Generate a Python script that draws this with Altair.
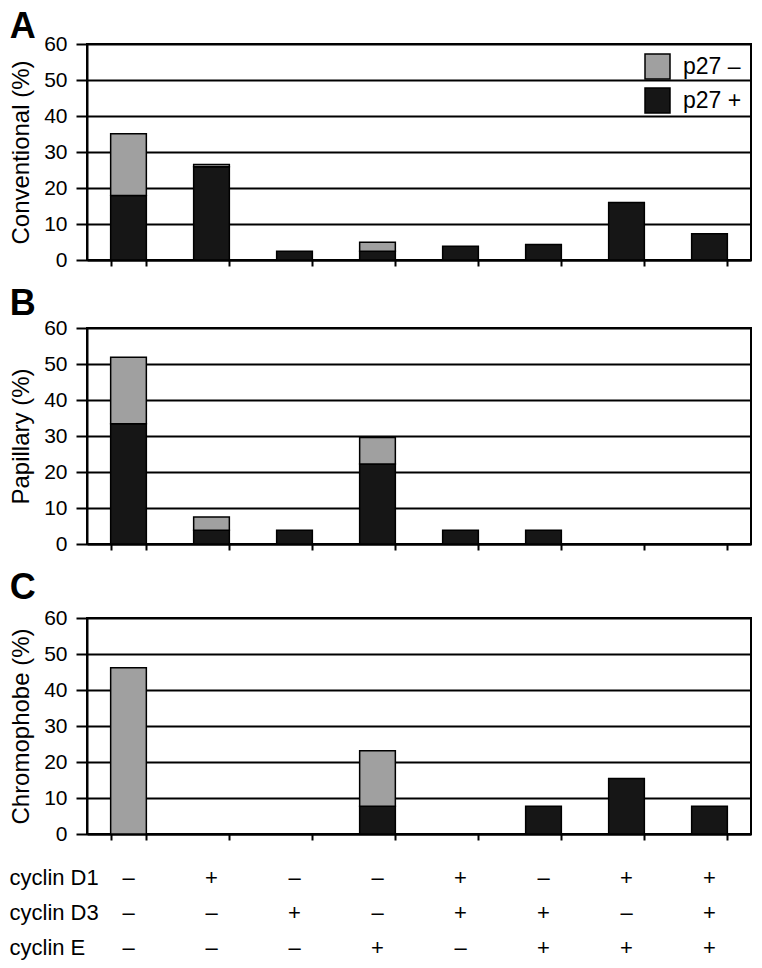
import altair as alt
import pandas as pd

# ---- data ----
categories = ["c1", "c2", "c3", "c4", "c5", "c6", "c7", "c8"]
series = ["p27 –", "p27 +"]

conv_pos = [17.9, 25.9, 2.4, 2.4, 3.8, 4.3, 16.0, 7.3]
conv_neg = [17.2, 0.6, 0.0, 2.5, 0.0, 0.0, 0.0, 0.0]

pap_pos = [33.4, 3.8, 3.8, 22.2, 3.8, 3.8, 0.0, 0.0]
pap_neg = [18.5, 3.7, 0.0, 7.4, 0.0, 0.0, 0.0, 0.0]

chr_pos = [0.0, 0.0, 0.0, 7.7, 0.0, 7.7, 15.4, 7.7]
chr_neg = [46.2, 0.0, 0.0, 15.4, 0.0, 0.0, 0.0, 0.0]

row_labels = ["cyclin D1", "cyclin D3", "cyclin E"]
cyclin_d1 = ["–", "+", "–", "–", "+", "–", "+", "+"]
cyclin_d3 = ["–", "–", "+", "–", "+", "+", "–", "+"]
cyclin_e = ["–", "–", "–", "+", "–", "+", "+", "+"]

y_ticks = [0, 10, 20, 30, 40, 50, 60]

FONT = "Liberation Sans"
W = 664
H = 216
GRAY = "#a0a0a0"
BLACK = "#161616"


def panel_df(pos, neg):
    rows = []
    for c, p, n in zip(categories, pos, neg):
        if p > 0:
            rows.append({"cat": c, "series": series[1], "value": p, "order": 0})
        if n > 0:
            rows.append({"cat": c, "series": series[0], "value": n, "order": 1})
    return pd.DataFrame(rows)


x_scale = alt.Scale(domain=categories, paddingInner=0.57, paddingOuter=0.285)
color_scale = alt.Scale(domain=series, range=[GRAY, BLACK])


def panel(df, ytitle, letter, offset, legend):
    return alt.Chart(df).mark_bar(stroke="black", strokeWidth=1.5).encode(
        x=alt.X("cat:N", scale=x_scale, sort=categories,
                axis=alt.Axis(title=None, labels=False, tickBand="extent",
                              ticks=True, tickSize=6, tickWidth=2,
                              tickColor="black", domainColor="black",
                              domainWidth=2, grid=False)),
        y=alt.Y("value:Q", stack="zero",
                scale=alt.Scale(domain=[0, 60], nice=False),
                axis=alt.Axis(values=y_ticks, title=ytitle, titleFontSize=24,
                              titleFontWeight="normal", titlePadding=10,
                              labelFontSize=21, labelPadding=9,
                              tickSize=11, tickWidth=2, tickColor="black",
                              domainColor="black", domainWidth=2,
                              grid=True, gridColor="black", gridWidth=2,
                              gridOpacity=1)),
        color=alt.Color("series:N", scale=color_scale, legend=legend),
        order=alt.Order("order:Q"),
    ).properties(
        width=W, height=H,
        title=alt.TitleParams(letter, anchor="start", frame="bounds",
                              fontSize=36, fontWeight="bold", color="black",
                              font=FONT, offset=offset),
    )


legend_a = alt.Legend(title=None, orient="top-right", offset=9, padding=0,
                      symbolType="square", symbolSize=625,
                      symbolStrokeColor="black", symbolStrokeWidth=1.5,
                      symbolOpacity=1, labelFontSize=23, labelOffset=12,
                      rowPadding=3, labelColor="black")

chart_a = panel(panel_df(conv_pos, conv_neg), "Conventional (%)", "A", -13, legend_a)
chart_b = panel(panel_df(pap_pos, pap_neg), "Papillary (%)", "B", -6, None)
chart_c = panel(panel_df(chr_pos, chr_neg), "Chromophobe (%)", "C", 0, None)

table_rows = []
for r, signs in zip(row_labels, [cyclin_d1, cyclin_d3, cyclin_e]):
    for c, s in zip(categories, signs):
        table_rows.append({"cat": c, "row": r, "sign": s})
table_df = pd.DataFrame(table_rows)

table = alt.Chart(table_df).mark_text(fontSize=22, color="black",
                                      baseline="middle", font=FONT).encode(
    x=alt.X("cat:N", scale=x_scale, sort=categories, axis=None),
    y=alt.Y("row:N", sort=row_labels,
            scale=alt.Scale(type="band", paddingInner=0, paddingOuter=0),
            axis=alt.Axis(title=None, domain=False, ticks=False, tickSize=0,
                          labelAlign="left", labelPadding=78, labelFontSize=22,
                          labelColor="black", grid=False)),
    text="sign:N",
).properties(width=W, height=105,
             view=alt.ViewBackground(stroke="transparent"))

chart = alt.vconcat(chart_a, chart_b, chart_c, table, spacing=14).resolve_scale(
    color="independent"
).properties(padding=0).configure(font=FONT).configure_view(
    stroke="black", strokeWidth=2
).configure_axis(labelColor="black", titleColor="black", labelFont=FONT,
                 titleFont=FONT).configure_legend(labelFont=FONT)

chart.save("out.html", embed_options={"renderer": "svg", "actions": False})
